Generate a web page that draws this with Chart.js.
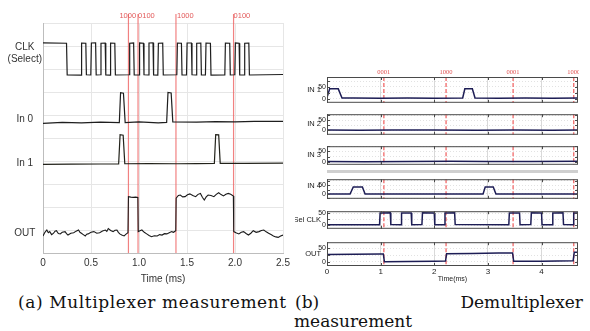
<!DOCTYPE html>
<html><head><meta charset="utf-8">
<script src="https://cdn.jsdelivr.net/npm/chart.js@4/dist/chart.umd.min.js"></script>
<style>
html,body{margin:0;padding:0;background:#fff;width:590px;height:331px;overflow:hidden;position:relative}
.box{position:absolute}
.cap{position:absolute;font-family:"DejaVu Serif",serif;font-size:17px;line-height:17px;color:#111;white-space:nowrap}
.just{text-align:justify;text-align-last:justify}
.band{position:absolute;left:327px;width:251px;top:170px;height:3px;background:#cfcfcf}
</style></head><body>
<div class="box" style="left:0;top:0;width:295px;height:285px"><canvas id="mux"></canvas></div>
<div id="right"></div>
<div class="band"></div>
<div class="cap" style="left:18px;top:294px;letter-spacing:0.6px">(a) Multiplexer measurement</div>
<div class="cap just" style="left:295px;top:294px;width:288px">(b) Demultiplexer</div>
<div class="cap" style="left:294px;top:313px">measurement</div>
<script>
// ---------- data: (a) multiplexer, time in ms ----------
const muxXTicks = [0, 0.5, 1, 1.5, 2, 2.5];
const muxRowLabels = [["CLK", "(Select)"], "In 0", "In 1", "OUT"];
const muxRowLabelAt = [8.67, 5.83, 3.91, 0.87];
const muxGridRows = [0,1,2,3,4,5,6,7,8,9,10];
const muxMarkT = [0.89, 0.99, 1.385, 1.985];
const muxMarkText = ["1000", "0100", "1000", "0100"];

const clkT = [0, 0.245, 0.252, 0.396, 0.402, 0.446, 0.452, 0.498, 0.504, 0.548, 0.554, 0.598, 0.604, 0.648, 0.654, 0.698, 0.704, 0.748, 0.754, 0.897, 0.903, 0.944, 0.950, 1.000, 1.006, 1.046, 1.052, 1.098, 1.104, 1.146, 1.152, 1.196, 1.202, 1.247, 1.253, 1.394, 1.400, 1.442, 1.448, 1.495, 1.501, 1.546, 1.552, 1.595, 1.601, 1.644, 1.650, 1.692, 1.698, 1.744, 1.750, 1.894, 1.900, 1.945, 1.951, 1.998, 2.004, 2.043, 2.049, 2.095, 2.101, 2.144, 2.150, 2.5];
const clkV = [9.14, 9.12, 7.74, 7.73, 9.13, 9.12, 7.75, 7.74, 9.13, 9.14, 7.74, 7.75, 9.12, 9.13, 7.74, 7.73, 9.13, 9.12, 7.74, 7.75, 9.12, 9.13, 7.74, 7.74, 9.13, 9.12, 7.75, 7.74, 9.13, 9.14, 7.74, 7.73, 9.12, 9.13, 7.74, 7.75, 9.13, 9.12, 7.74, 7.74, 9.13, 9.13, 7.75, 7.74, 9.12, 9.13, 7.74, 7.74, 9.13, 9.12, 7.73, 7.74, 9.13, 9.12, 7.74, 7.75, 9.13, 9.12, 7.74, 7.74, 9.12, 9.13, 7.74, 7.76];
const in0T = [0, 0.2, 0.4, 0.6, 0.795, 0.808, 0.838, 0.856, 1.0, 1.2, 1.288, 1.302, 1.335, 1.352, 1.6, 1.8, 2.0, 2.2, 2.5];
const in0V = [5.64, 5.68, 5.66, 5.69, 5.67, 6.97, 6.95, 5.67, 5.70, 5.66, 5.68, 6.98, 6.96, 5.70, 5.69, 5.71, 5.70, 5.72, 5.72];
const in1T = [0, 0.3, 0.6, 0.788, 0.803, 0.835, 0.852, 1.1, 1.4, 1.6, 1.785, 1.799, 1.83, 1.846, 2.1, 2.5];
const in1V = [3.85, 3.86, 3.87, 3.87, 5.14, 5.12, 3.88, 3.89, 3.88, 3.89, 3.90, 5.15, 5.14, 3.90, 3.90, 3.91];
const outT = [
  0, 0.02, 0.04, 0.055, 0.07, 0.09, 0.11, 0.125, 0.14, 0.16, 0.18, 0.20, 0.23, 0.245, 0.26, 0.29, 0.32, 0.345, 0.37, 0.385, 0.40, 0.42, 0.44, 0.455, 0.47, 0.50, 0.53, 0.56, 0.59, 0.62, 0.65, 0.665, 0.68, 0.705, 0.73, 0.75, 0.77, 0.785, 0.80, 0.82, 0.845, 0.865, 0.885,
  0.89, 0.915, 0.94, 0.965, 0.988,
  0.992, 1.01, 1.03, 1.055, 1.08, 1.105, 1.13, 1.16, 1.19, 1.215, 1.24, 1.265, 1.29, 1.315, 1.34, 1.36, 1.383,
  1.387, 1.41, 1.43, 1.455, 1.48, 1.505, 1.53, 1.56, 1.59, 1.615, 1.64, 1.66, 1.68, 1.70, 1.72, 1.75, 1.78, 1.805, 1.83, 1.855, 1.88, 1.905, 1.93, 1.955, 1.983,
  1.987, 2.01, 2.04, 2.065, 2.09, 2.115, 2.14, 2.165, 2.19, 2.22, 2.25, 2.275, 2.30, 2.325, 2.35, 2.375, 2.40, 2.425, 2.45, 2.475, 2.5];
const outV = [
  0.74, 0.90, 1.00, 0.88, 0.93, 0.80, 0.86, 0.95, 0.97, 0.85, 0.83, 0.90, 0.93, 0.84, 0.78, 0.86, 0.88, 0.95, 1.00, 0.90, 0.86, 0.80, 0.74, 0.82, 0.83, 0.90, 0.93, 0.86, 0.88, 0.96, 1.00, 0.94, 1.06, 0.98, 0.93, 0.99, 1.00, 0.90, 0.83, 0.78, 0.74, 0.82, 0.88,
  2.45, 2.43, 2.42, 2.43, 2.41,
  0.93, 0.97, 1.00, 0.90, 0.83, 0.76, 0.71, 0.75, 0.74, 0.80, 0.78, 0.84, 0.83, 0.88, 0.93, 0.90, 0.97,
  2.38, 2.50, 2.52, 2.44, 2.45, 2.53, 2.57, 2.50, 2.45, 2.55, 2.59, 2.42, 2.30, 2.44, 2.52, 2.50, 2.45, 2.55, 2.62, 2.54, 2.48, 2.55, 2.59, 2.55, 2.48,
  0.93, 0.88, 0.83, 0.90, 0.93, 0.85, 0.78, 0.86, 0.97, 0.90, 0.93, 0.98, 1.00, 0.92, 0.86, 0.80, 0.74, 0.70, 0.68, 0.74, 0.78];

// ---------- data: (b) demultiplexer, time in ms ----------
const demXTicks = [0, 1, 2, 3, 4];
const demYTicks = [-25, 0, 25, 50, 75];
const demYLabels = {0: "0", 50: "50"};
const demMarkT = [1.06, 2.22, 3.47, 4.6];
const demMarkText = ["0001", "1000", "0001", "1000"];
const demNames = ["IN 1", "IN 2", "IN 3", "IN 4", "Sel CLK", "OUT"];

const dIn1T = [0, 0.05, 0.21, 0.28, 0.5, 1.0, 1.5, 2.0, 2.53, 2.57, 2.71, 2.76, 3.2, 3.7, 4.2, 4.68];
const dIn1V = [5, 42, 42, 3, 3, 2, 3, 2, 3, 42, 42, 3, 2, 3, 2, 3];
const dIn2T = [0, 0.6, 1.2, 2.0, 2.8, 3.5, 4.2, 4.68];
const dIn2V = [2, 1, 2, 2, 1, 2, 1, 2];
const dIn3T = [0, 0.7, 1.5, 2.3, 3.0, 3.8, 4.68];
const dIn3V = [0, -1, 0, 1, 0, 0, 1];
const dIn4T = [0, 0.43, 0.49, 0.66, 0.71, 1.5, 2.5, 2.91, 2.95, 3.10, 3.15, 4.0, 4.68];
const dIn4V = [0, 0, 39, 39, 0, 0, 0, 0, 39, 39, 0, 0, 0];
const dSelT = [0, 0.98, 0.99, 1.18, 1.19, 1.38, 1.39, 1.57, 1.58, 1.77, 1.78, 2.00, 2.01, 2.19, 2.20, 2.38, 2.39, 3.39, 3.40, 3.59, 3.60, 3.80, 3.81, 4.00, 4.01, 4.20, 4.21, 4.40, 4.41, 4.59, 4.60, 4.68];
const dSelV = [1, 1, 51, 52, 2, 1, 51, 51, 1, 2, 52, 51, 1, 1, 51, 52, 2, 1, 51, 51, 1, 2, 52, 51, 1, 1, 51, 52, 2, 1, 51, 51];
const dOutT = [0, 0.5, 1.0, 1.05, 1.07, 1.5, 2.0, 2.21, 2.23, 2.7, 3.2, 3.46, 3.48, 4.0, 4.59, 4.61, 4.68];
const dOutV = [27, 28, 29, 29, 0, 1, 2, 3, 30, 31, 33, 33, 2, 2, 4, 35, 35];

// ---------- helpers ----------
const pts = (T, V) => T.map((t, i) => ({x: t, y: V[i]}));
Chart.defaults.font.family = '"Liberation Sans", Arial, sans-serif';
Chart.defaults.color = '#333';

const markers = {
  id: 'markers',
  beforeDatasetsDraw(chart, args, o) {
    if (!o.lines) return;
    const {ctx, chartArea: a} = chart; const x = chart.scales.x;
    ctx.save();
    ctx.strokeStyle = o.color; ctx.lineWidth = o.width; ctx.setLineDash(o.dash || []);
    o.lines.forEach(t => {
      const px = x.getPixelForValue(t);
      ctx.beginPath(); ctx.moveTo(px, a.top - (o.extendTop || 0)); ctx.lineTo(px, a.bottom); ctx.stroke();
    });
    ctx.setLineDash([]);
    if (o.labels) {
      ctx.fillStyle = o.labelColor; ctx.font = o.labelFont; ctx.textBaseline = 'middle';
      o.labels.forEach((s, i) => {
        ctx.textAlign = o.align;
        ctx.fillText(s, x.getPixelForValue(o.lines[i]) + o.dx[i], a.top + o.labelDy);
      });
    }
    ctx.restore();
  }
};

const frame = {
  id: 'frame',
  afterDraw(chart, args, o) {
    if (!o.on) return;
    const {ctx, chartArea: a} = chart; const x = chart.scales.x, y = chart.scales.y;
    ctx.save();
    ctx.strokeStyle = '#4a4a4a'; ctx.lineWidth = 1;
    ctx.strokeRect(a.left + 0.5, a.top + 0.5, a.right - a.left - 1, a.bottom - a.top - 1);
    ctx.beginPath();
    y.ticks.forEach(t => { const py = Math.round(y.getPixelForValue(t.value)) + 0.5;
      ctx.moveTo(a.left, py); ctx.lineTo(a.left + 3, py); ctx.moveTo(a.right - 3, py); ctx.lineTo(a.right, py); });
    x.ticks.forEach(t => { const px = Math.round(x.getPixelForValue(t.value)) + 0.5;
      ctx.moveTo(px, a.top); ctx.lineTo(px, a.top + 3); ctx.moveTo(px, a.bottom - 3); ctx.lineTo(px, a.bottom); });
    ctx.stroke();
    if (o.name) {
      ctx.fillStyle = '#222'; ctx.font = '7.5px "Liberation Sans", Arial, sans-serif';
      ctx.textAlign = 'right'; ctx.textBaseline = 'middle';
      ctx.fillText(o.name, a.left - 6, y.getPixelForValue(o.nameAt));
    }
    ctx.restore();
  }
};

// ---------- (a) multiplexer chart ----------
const trace = (d, c, w) => ({data: d, borderColor: c, borderWidth: w, pointRadius: 0, tension: 0, fill: false});
new Chart(document.getElementById('mux'), {
  type: 'line',
  data: {datasets: [
    trace(pts(clkT, clkV), '#1e1e1e', 1.2),
    trace(pts(in0T, in0V), '#1e1e1e', 1.2),
    trace(pts(in1T, in1V), '#22221a', 1.2),
    trace(pts(outT, outV), '#1a1a1a', 1.1)
  ]},
  options: {
    responsive: true, maintainAspectRatio: false, animation: false, devicePixelRatio: 1,
    layout: {padding: {top: 23, right: 12, left: 0, bottom: 0}},
    plugins: {legend: {display: false}, tooltip: {enabled: false},
      markers: {lines: muxMarkT, labels: muxMarkText, color: 'rgba(238,98,98,0.8)', width: 1.2,
        extendTop: 9, labelColor: '#e25a5a', labelFont: '7.5px "Liberation Sans", Arial, sans-serif',
        align: 'left', dx: [-9, 0, 1, 0], labelDy: -7},
      frame: {on: false}},
    scales: {
      x: {type: 'linear', min: 0, max: 2.5,
        afterBuildTicks: s => { s.ticks = muxXTicks.map(v => ({value: v})); },
        afterFit: s => { s.height = 32; },
        ticks: {font: {size: 10}, color: '#333', padding: 4, maxRotation: 0},
        grid: {color: '#e6e6e6', drawTicks: false},
        border: {color: '#bdbdbd'},
        title: {display: true, text: 'Time (ms)', font: {size: 10}, color: '#333', padding: {top: 0, bottom: 0}}},
      y: {min: 0, max: 10,
        afterBuildTicks: s => { s.ticks = muxGridRows.concat(muxRowLabelAt).sort((a, b) => a - b).map(v => ({value: v})); },
        afterFit: s => { s.width = 43; },
        ticks: {autoSkip: false, crossAlign: 'center', padding: 1, font: {size: 10}, color: '#333',
          callback: v => { const i = muxRowLabelAt.indexOf(v); return i >= 0 ? muxRowLabels[i] : ''; }},
        grid: {drawTicks: false, color: c => Number.isInteger(c.tick.value) ? '#e6e6e6' : 'rgba(0,0,0,0)'},
        border: {color: '#bdbdbd'}}
    }
  },
  plugins: [markers, frame]
});

// ---------- (b) demultiplexer charts ----------
const demSeries = [pts(dIn1T, dIn1V), pts(dIn2T, dIn2V), pts(dIn3T, dIn3V), pts(dIn4T, dIn4V), pts(dSelT, dSelV), pts(dOutT, dOutV)];
const panels = [
  {top: 77, bottom: 108, min: -18, max: 93, nameAt: 36},
  {top: 109, bottom: 140, min: -22, max: 81, nameAt: 34},
  {top: 141, bottom: 170, min: -16, max: 76, nameAt: 32},
  {top: 174, bottom: 204, min: -27, max: 83, nameAt: 43},
  {top: 206, bottom: 234, min: -16, max: 59, nameAt: 21},
  {top: 237, bottom: 266, min: -16, max: 73, nameAt: 30}
];
const right = document.getElementById('right');
panels.forEach((p, i) => {
  const first = i === 0, last = i === panels.length - 1;
  const padTop = first ? 14 : 0, xH = last ? 17 : 0;
  const div = document.createElement('div');
  div.className = 'box';
  div.style.cssText = `left:295px;top:${p.top - padTop}px;width:284px;height:${p.bottom - p.top + padTop + xH}px`;
  const cv = document.createElement('canvas'); div.appendChild(cv); right.appendChild(div);
  new Chart(cv, {
    type: 'line',
    data: {datasets: [trace(demSeries[i], '#1d1d55', 1.5)]},
    options: {
      responsive: true, maintainAspectRatio: false, animation: false, devicePixelRatio: 1,
      layout: {padding: {top: padTop, right: 1, left: 0, bottom: 0}},
      plugins: {legend: {display: false}, tooltip: {enabled: false},
        markers: {lines: demMarkT, labels: first ? demMarkText : null, color: 'rgba(240,90,90,0.85)', width: 1.4,
          dash: [4, 2], extendTop: 0, labelColor: '#e05050', labelFont: '6.5px "Liberation Serif", serif',
          align: 'center', dx: [0, 0, 0, 0], labelDy: -5},
        frame: {on: true, name: demNames[i], nameAt: p.nameAt}},
      scales: {
        x: {type: 'linear', min: 0, max: 4.68,
          afterBuildTicks: s => { s.ticks = demXTicks.map(v => ({value: v})); },
          afterFit: s => { s.height = xH; },
          ticks: {display: last, font: {size: 8}, color: '#222', padding: 1, maxRotation: 0},
          grid: {color: '#d9d9d9', drawTicks: false},
          border: {display: false},
          title: {display: last, text: 'Time(ms)', font: {size: 7}, color: '#222', padding: {top: -3, bottom: 0}}},
        y: {min: p.min, max: p.max,
          afterBuildTicks: s => { s.ticks = demYTicks.filter(v => v > p.min && v < p.max).map(v => ({value: v})); },
          afterFit: s => { s.width = 32; },
          ticks: {autoSkip: false, padding: 1, font: {size: 7}, color: '#222',
            callback: v => demYLabels[v] !== undefined ? demYLabels[v] : ''},
          grid: {drawTicks: false, color: '#e2e2e2'},
          border: {display: false, dash: [1, 2]}}
      }
    },
    plugins: [markers, frame]
  });
});
</script>
</body></html>
